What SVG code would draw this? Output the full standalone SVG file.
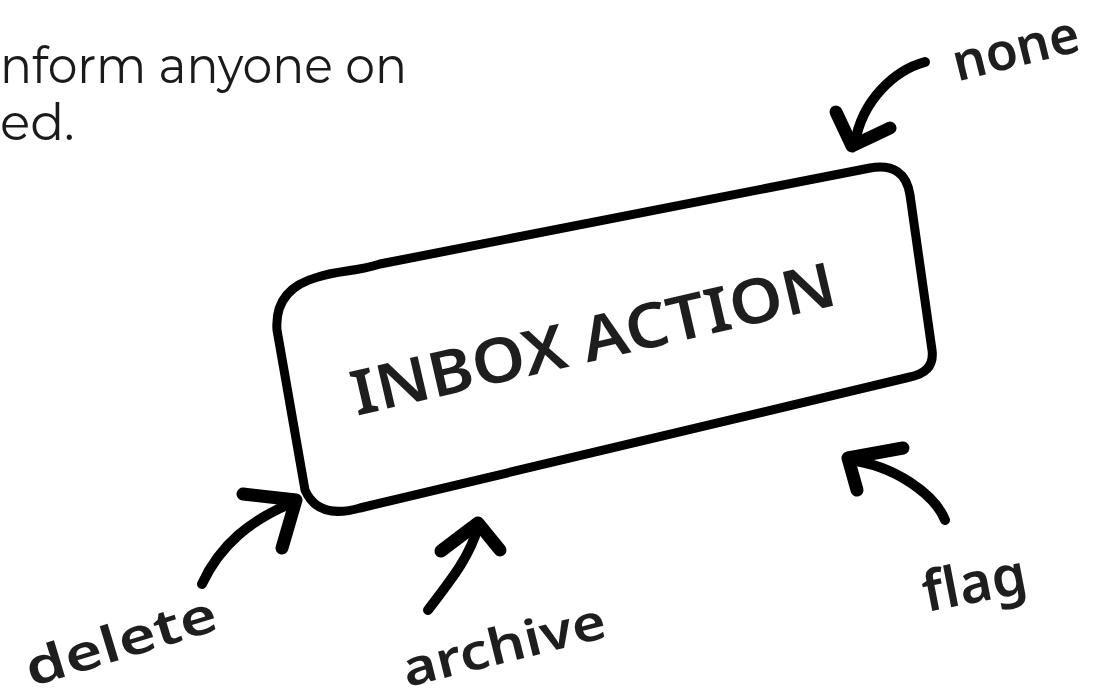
<svg xmlns="http://www.w3.org/2000/svg" width="1098" height="695" viewBox="0 0 1098 695">
<style>
.hand{font-family:"Comic Sans MS","Noto Sans",sans-serif;font-weight:600;fill:#1e1e1e}
.body{font-family:"Montserrat","Noto Sans",sans-serif;font-weight:400;fill:#1a1a1a;font-size:50px}
.arrow{fill:none;stroke:#000;stroke-width:10;stroke-linecap:round;stroke-linejoin:round}
.tip{fill:none;stroke:#000;stroke-width:13;stroke-linecap:round;stroke-linejoin:round}
.box{fill:#fff;stroke:#000;stroke-width:9;stroke-linejoin:round}
</style>
<rect width="1098" height="695" fill="#fff"/>
<g id="intro-text">
<text class="body" x="0" y="83" textLength="407" lengthAdjust="spacingAndGlyphs">nform anyone on</text>
<text class="body" x="0" y="140">ed.</text>
</g>
<g id="inbox-action">
<path class="box" d="M318,277 C340,270 355,272 380,264 L870,168 Q905,162 910,195 L932,350 Q935,372 910,377 L360,508 Q318,520 305,490 L277,330 Q274,289 318,277 Z"/>
<text class="hand" x="598" y="360" font-size="62" font-weight="500" text-anchor="middle" textLength="495" lengthAdjust="spacingAndGlyphs" transform="rotate(-13 598 360)">INBOX ACTION</text>
</g>
<g id="label-none">
<text class="hand" x="1020" y="66" font-size="52" text-anchor="middle" transform="rotate(-14 1020 66)">none</text>
</g>
<g id="label-flag">
<text class="hand" x="978" y="602" font-size="56" text-anchor="middle" transform="rotate(-11 978 602)">flag</text>
</g>
<g id="label-archive">
<text class="hand" x="508" y="662" font-size="50" text-anchor="middle" textLength="208" lengthAdjust="spacingAndGlyphs" transform="rotate(-14 508 662)">archive</text>
</g>
<g id="label-delete">
<text class="hand" x="126" y="658" font-size="50" text-anchor="middle" textLength="198" lengthAdjust="spacingAndGlyphs" transform="rotate(-17 126 658)">delete</text>
</g>
<g id="connectors">
<path class="arrow" d="M925,62 C895,70 862,100 855,143"/>
<path class="tip" d="M836,112 L852,146 L890,128"/>
<path class="arrow" d="M945,520 C935,495 895,465 848,460"/>
<path class="tip" d="M903,448 L848,458 L857,490"/>
<path class="arrow" d="M428,610 C455,575 470,555 478,527"/>
<path class="tip" d="M441,551 L478,523 L500,550"/>
<path class="arrow" d="M202,584 C220,545 250,520 294,502"/>
<path class="tip" d="M243,494 L296,500 L282,548"/>
</g>
</svg>
